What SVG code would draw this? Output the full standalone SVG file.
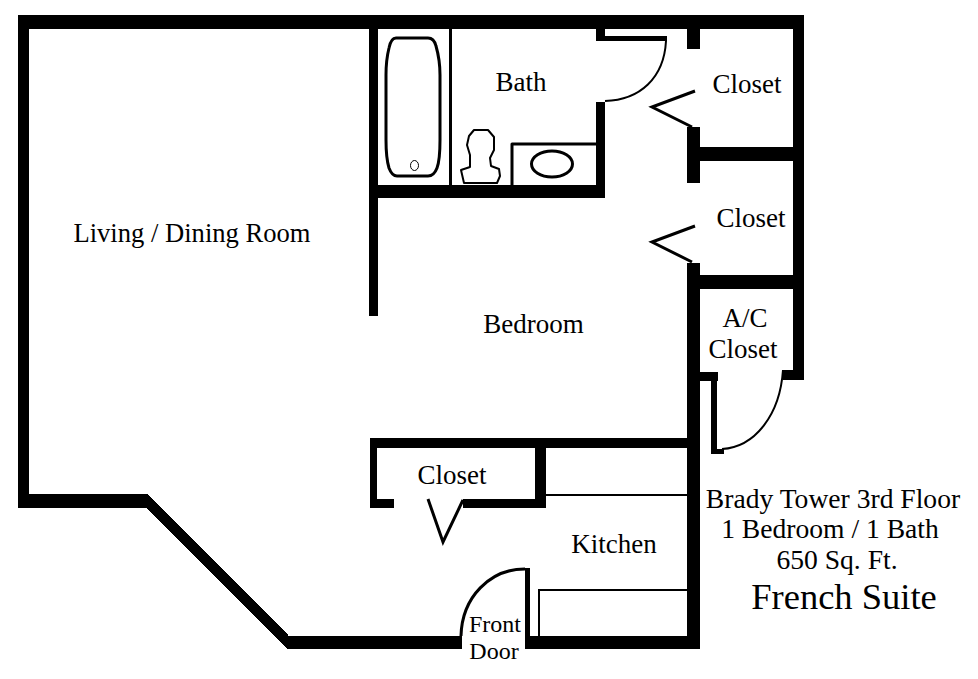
<svg xmlns="http://www.w3.org/2000/svg" width="978" height="679" viewBox="0 0 978 679">
<style>
.w{fill:#000;shape-rendering:crispEdges}
.l{fill:none;stroke:#000;stroke-width:2}
.c{fill:none;stroke:#000;stroke-width:3}
.h{fill:none;stroke:#000;stroke-width:3;stroke-linejoin:round}
.t{fill:none;stroke:#000;stroke-width:2;stroke-linejoin:round}
text{font-family:"Liberation Serif","Times New Roman",serif;font-size:27px;fill:#000;text-anchor:middle}
.i{font-size:27.600px}
.d{font-size:24px}
</style>
<rect width="978" height="679" fill="#fff"/>
<g id="walls">
<path class="w" d="M18 15H804V380H783V370H793V289H700V649H525V636H687V448H546V508H463V499H535V448H377V499H394V508H370V438H687V263H700V275H793V161H700V183H687V127H700V147H793V29H700V49H687V29H605V36H667V41H605V41H596V29H378V185H596V102H605V198H378V316H369V29H29V494H148L289 636H462V649H287L146 508H18Z"/>
<path class="w" d="M700 372H718V381H717V449H724V454H711V381H700Z"/>
<path class="w" d="M525 568H530V636H525Z"/>
</g>
<g id="bath-fixtures">
<path class="h" d="M396 38H428Q434 38 436 46Q440 60 440 75V140Q440 160 437 168Q434 176 428 176H397Q392 176 389 168Q386 158 386 140V75Q386 60 389 48Q391 38 396 38Z"/>
<ellipse class="l" style="stroke-width:1" cx="414.500" cy="165.500" rx="4" ry="5"/>
<rect class="w" x="449" y="29" width="3" height="156"/>
<path class="h" d="M512 185V144H596"/>
<ellipse class="h" cx="552" cy="164" rx="20.500" ry="13"/>
<path class="t" d="M474 130H488L494 137L494 150L490 158L491 166L499 169L500 176L497 183H464L461 170L470 167L470 155L467 145L469 136Z"/>
</g>
<g id="doors">
<path class="l" d="M666 41C664 78 640 100 605 101"/>
<path class="l" d="M722 449C755 447 780 415 783 370"/>
<path class="h" d="M525 569C490 569 462 597 461 636"/>
<path class="c" d="M695 91L652 107L692 127"/>
<path class="c" d="M695 226L652 242L692 262"/>
<path class="c" d="M428 499L443 542L463 500"/>
</g>
<g id="kitchen-fixtures">
<rect class="w" x="546" y="494" width="141" height="2"/>
<path class="l" d="M539 636V590H687"/>
</g>
<g id="labels">
<text x="521" y="90.500">Bath</text>
<text x="747" y="92.500">Closet</text>
<text x="751" y="226.500">Closet</text>
<text x="192" y="241.500" style="font-size:26.600px">Living / Dining Room</text>
<text x="533.500" y="332.500">Bedroom</text>
<text x="745" y="326.500">A/C</text>
<text x="743" y="357.500">Closet</text>
<text x="452" y="483.500">Closet</text>
<text x="614" y="552.500">Kitchen</text>
<text x="495" y="631.500" class="d">Front</text>
<text x="494" y="658.500" class="d">Door</text>
<text x="833" y="507.500" class="i">Brady Tower 3rd Floor</text>
<text x="830" y="537.500" class="i">1 Bedroom / 1 Bath</text>
<text x="837" y="568.500" class="i">650 Sq. Ft.</text>
<text x="844" y="608.500" style="font-size:36.500px">French Suite</text>
</g>
</svg>
